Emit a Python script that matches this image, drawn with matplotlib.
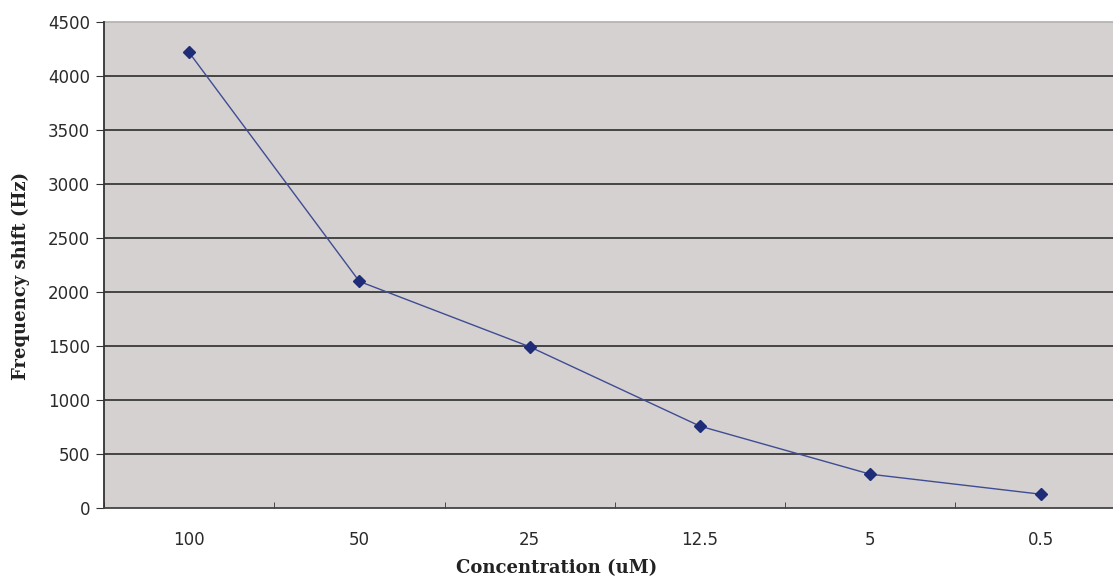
import matplotlib
matplotlib.use("Agg")
import matplotlib.pyplot as plt
import numpy as np

categories = ["100", "50", "25", "12.5", "5", "0.5"]
freq_shift = [4215, 2095, 1490, 755, 310, 125]
yticks = [0, 500, 1000, 1500, 2000, 2500, 3000, 3500, 4000, 4500]

fig = plt.figure(figsize=(11.13, 5.82), dpi=100)
ax = fig.add_axes([0.0934, 0.1277, 0.918, 0.835])
ax.set_facecolor("#d5d1d0")

x = np.arange(len(categories))
ax.set_xlim(-0.5, len(categories) - 0.5)
ax.set_ylim(0, 4500)

for yv in yticks[1:-1]:
    ax.axhline(yv, color="#3a3a3a", lw=1.3, zorder=1)

ax.plot(x, freq_shift, color="#3f4c94", lw=1.0, zorder=3)
ax.plot(x, freq_shift, linestyle="none", marker="D", ms=6.5,
        color="#1f2d78", zorder=4)

ax.set_yticks(yticks)
ax.set_yticklabels([str(v) for v in yticks], fontsize=12,
                   family="DejaVu Sans", color="#2a2a2a")
ax.set_xticks(x)
ax.set_xticklabels(categories, fontsize=12, family="DejaVu Sans",
                   color="#2a2a2a")
ax.set_xticks(np.arange(len(categories) + 1) - 0.5, minor=True)
ax.tick_params(axis="x", which="major", length=0, pad=17)
ax.tick_params(axis="x", which="minor", length=4, direction="in", color="#333333")
ax.tick_params(axis="y", which="major", length=6, direction="out",
               color="#333333", pad=4)

for s in ["top", "right"]:
    ax.spines[s].set_visible(False)
ax.spines["left"].set_color("#333333")
ax.spines["left"].set_linewidth(1.3)
ax.spines["bottom"].set_color("#444444")
ax.spines["bottom"].set_linewidth(1.3)
ax.axhline(4500, color="#b8b4b3", lw=1.3, zorder=1, clip_on=False)

fig.text(557 / 1113, 1 - 568 / 582, "Concentration (uM)", fontsize=13,
         fontweight="bold", family="DejaVu Serif", color="#222222",
         ha="center", va="center")
fig.text(21 / 1113, 1 - 276 / 582, "Frequency shift (Hz)", fontsize=13,
         fontweight="bold", family="DejaVu Serif", color="#222222",
         ha="center", va="center", rotation=90)

fig.savefig("out.png", dpi=100, facecolor="white")
